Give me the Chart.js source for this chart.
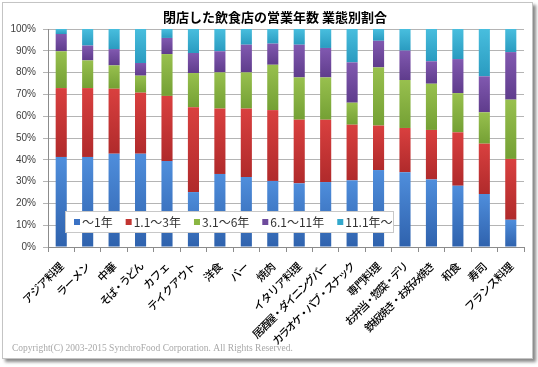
<!DOCTYPE html>
<html>
<head>
<meta charset="utf-8">
<script src="https://cdn.jsdelivr.net/npm/chart.js@4.4.1/dist/chart.umd.min.js"></script>
<style>
html,body{margin:0;padding:0;background:#fff;}
#frame{position:absolute;left:2px;top:2px;width:529px;height:355px;border:1px solid #c4c4c4;box-shadow:3px 3px 3px #8a8a8a;background:#fff;}
#wrap{position:absolute;left:0;top:0;width:538px;height:367px;}
</style>
</head>
<body>
<div id="frame"></div>
<div id="wrap"><canvas id="wvChart" width="538" height="367"></canvas></div>
<script>
// categories & values (percent)
const categories=['アジア料理','ラーメン','中華','そば・うどん','カフェ','テイクアウト','洋食','バー','焼肉','イタリア料理','居酒屋・ダイニングバー','カラオケ・パブ・スナック','専門料理','お弁当・惣菜・デリ','鉄板焼き・お好み焼き','和食','寿司','フランス料理'];
const seriesNames=['～1年','1.1～3年','3.1～6年','6.1～11年','11.1年～'];
const upTo1=[41.3,41.3,42.8,42.8,39.4,25.2,33.5,32.1,30.3,29.2,29.8,30.6,35.3,34.3,31.0,28.1,24.3,12.5];
const y1to3=[31.6,31.6,29.8,28.0,29.9,38.9,30.0,31.4,32.5,29.2,28.6,25.5,20.4,20.3,22.7,24.5,23.1,27.9];
const y3to6=[16.9,12.7,10.7,7.8,19.2,15.7,16.6,16.6,20.8,19.4,19.4,10.1,26.7,22.0,21.2,18.0,14.4,27.2];
const y6to11=[7.9,6.8,7.5,5.8,7.4,9.2,9.7,12.7,9.7,15.0,13.5,18.5,12.2,13.5,10.3,15.6,16.5,21.8];
const over11=[2.3,7.6,9.2,15.6,4.1,11.0,10.2,7.2,6.7,7.2,8.7,15.3,5.4,9.9,14.8,13.8,21.7,10.6];
const yTicks=[0,10,20,30,40,50,60,70,80,90,100];

const series=[upTo1,y1to3,y3to6,y6to11,over11];
const colors=[['#4f8edc','#2f62ad'],['#d9403f','#b02a2b'],['#98c04e','#74a034'],['#8159b0','#5f3c8c'],['#48bede','#2a9bc0']];
const keyColors=['#3b72c4','#c23531','#8ab642','#6d4a9c','#33a8cc'];
const jp='"Noto Sans CJK JP","Noto Sans",sans-serif';

// vertical gradient per segment, top light -> bottom dark
function segFill(k){
 return function(ctx){
  const chart=ctx.chart,y=chart.scales.y;
  if(!y||ctx.type!=='data') return colors[k][0];
  const i=ctx.dataIndex;
  let lo=0;
  for(let j=0;j<k;j++) lo+=series[j][i];
  const hi=lo+series[k][i];
  const p0=y.getPixelForValue(hi),p1=y.getPixelForValue(lo);
  if(!isFinite(p0)||!isFinite(p1)||p0===p1) return colors[k][0];
  const g=chart.ctx.createLinearGradient(0,p0,0,p1);
  g.addColorStop(0,colors[k][0]);
  g.addColorStop(1,colors[k][1]);
  return g;
 };
}

const extras={
 id:'extras',
 beforeDraw(chart){
  // tighter kana spacing on the category labels (proportional look of the original)
  const xs=chart.scales.x;
  if(xs&&!xs._tight){
   const f=xs.drawLabels;
   xs.drawLabels=function(a){
    const c=this.ctx,ft=c.fillText;
    c.save();
    c.fillText=function(t,x,y,m){
     this.letterSpacing=/[・ッャ]/.test(t)?'-1.8px':'-0.6px';
     return ft.call(this,t,x,y,m);
    };
    f.call(this,a);
    delete c.fillText;
    c.restore();
   };
   xs._tight=true;
  }
 },
 afterDatasetsDraw(chart){
  const c=chart.ctx;
  c.save();
  // legend box inside plot
  const bx=65,by=211,bw=328,bh=21;
  c.fillStyle='#fff';c.fillRect(bx,by,bw,bh);
  c.strokeStyle='#c8c8c8';c.lineWidth=1;c.strokeRect(bx+.5,by+.5,bw,bh);
  c.font='12px '+jp;c.textBaseline='middle';c.textAlign='left';
  let x=74;
  chart.data.datasets.forEach((ds,i)=>{
   c.fillStyle=keyColors[i];c.fillRect(x,by+8,6,6);
   c.fillStyle='#333';c.fillText(ds.label,x+8,by+bh/2+1);
   x+=8+c.measureText(ds.label).width+13;
  });
  // title
  c.fillStyle='#000';c.textAlign='center';
  c.font='bold 13px '+jp;
  c.fillText('閉店した飲食店の営業年数 業態別割合',275,17);
  // copyright
  c.fillStyle='#a8a8a8';c.textAlign='left';
  c.font='9.5px "Liberation Serif",serif';
  c.fillText('Copyright(C) 2003-2015 SynchroFood Corporation. All Rights Reserved.',12,348);
  c.restore();
 }
};

new Chart(document.getElementById('wvChart'),{
 type:'bar',
 data:{
  labels:categories,
  datasets:series.map((d,k)=>({label:seriesNames[k],data:d,backgroundColor:segFill(k),borderWidth:0,barPercentage:0.42,categoryPercentage:1}))
 },
 options:{
  responsive:false,animation:false,
  layout:{padding:{left:0,top:29,right:14,bottom:0}},
  plugins:{legend:{display:false},title:{display:false},tooltip:{enabled:false}},
  scales:{
   x:{stacked:true,
    ticks:{autoSkip:false,maxRotation:45,minRotation:45,color:'#000',font:{size:11,family:jp,weight:'500'},padding:8},
    grid:{drawOnChartArea:false,tickLength:5,color:'#8c8c8c',offset:true},
    border:{color:'#8c8c8c'},
    afterFit(s){s.height=120;}
   },
   y:{stacked:true,min:0,max:100,
    afterBuildTicks(s){s.ticks=yTicks.map(v=>({value:v}));},
    ticks:{callback:v=>v+'%',color:'#404040',font:{size:10,family:'"Liberation Sans",Arial,sans-serif'},padding:7},
    grid:{color:'#b4b4b4',tickLength:5},
    border:{color:'#8c8c8c'},
    afterFit(s){s.width=48;}
   }
  }
 },
 plugins:[extras]
});
</script>
</body>
</html>
